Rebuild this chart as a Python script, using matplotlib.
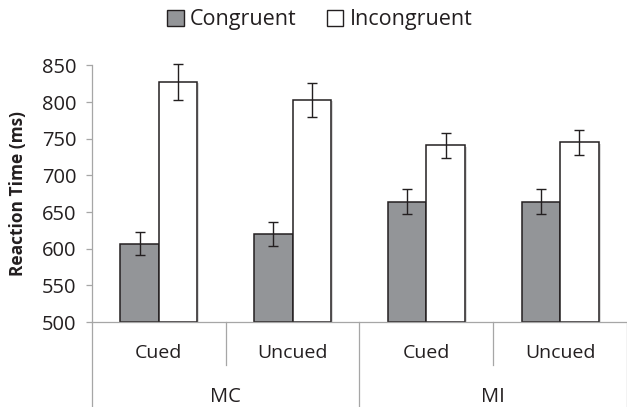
import numpy as np
import matplotlib
matplotlib.use("Agg")
import matplotlib.pyplot as plt
import matplotlib.patheffects as pe
from matplotlib.patches import Patch

# data
groups = ["MC", "MI"]
cues = ["Cued", "Uncued", "Cued", "Uncued"]
congruent = [607, 620, 664, 664]
congruent_err = [15.5, 16, 17, 17]
incongruent = [828, 803, 741, 745]
incongruent_err = [24.5, 23, 17.5, 17.5]
yticks = [500, 550, 600, 650, 700, 750, 800, 850]

dark = "#231f20"
grey_fill = "#939598"
axis_grey = "#a6a6a6"

plt.rcParams["font.family"] = ["Open Sans", "DejaVu Sans"]

fig = plt.figure(figsize=(6.27, 4.07), dpi=100)
ax = fig.add_axes([0.1467, 0.2088, 0.8533, 0.6303])

x = np.arange(len(cues))
bw = 0.288
shadow = [pe.SimplePatchShadow(offset=(1.5, -1), shadow_rgbFace="#999999", alpha=0.35), pe.Normal()]

b1 = ax.bar(x - bw / 2, np.array(congruent) - 500, bw, bottom=500, color=grey_fill,
            edgecolor=dark, linewidth=1.1, zorder=2)
b2 = ax.bar(x + bw / 2, np.array(incongruent) - 500, bw, bottom=500, color="white",
            edgecolor=dark, linewidth=1.1, zorder=2)
for b in list(b1) + list(b2):
    b.set_path_effects(shadow)

for xs, ys, es in [(x - bw / 2, congruent, congruent_err), (x + bw / 2, incongruent, incongruent_err)]:
    eb = ax.errorbar(xs, ys, yerr=es, fmt="none", ecolor=dark,
                     elinewidth=1.0, capsize=3.3, capthick=1.0, zorder=3)
    for art in eb.get_children():
        art.set_clip_on(False)

ax.set_xlim(-0.5, 3.5)
ax.set_ylim(500, 850)
ax.set_yticks(yticks)
ax.set_xticks([])
ax.tick_params(axis="y", direction="out", length=4.3, width=0.9, color=axis_grey,
               labelsize=14.5, labelcolor=dark, pad=7)

for s in ["top", "right"]:
    ax.spines[s].set_visible(False)
ax.spines["left"].set_color(axis_grey)
ax.spines["bottom"].set_color(axis_grey)
ax.spines["left"].set_linewidth(0.9)
ax.spines["bottom"].set_linewidth(0.9)

ax.text(-0.138, 0.5, "Reaction Time (ms)", transform=ax.transAxes, rotation=90,
        ha="center", va="center", fontsize=12.5, fontweight="bold", color=dark)

# multi-level category axis
trans = ax.get_xaxis_transform()
for xs, depth in [(-0.5, -0.33), (0.5, -0.168), (1.5, -0.33), (2.5, -0.168), (3.5, -0.33)]:
    ax.plot([xs, xs], [0, depth], color=axis_grey, lw=0.9, transform=trans, clip_on=False)

for xi, c in zip(x, cues):
    ax.text(xi, -0.121, c, transform=trans, ha="center", va="center", fontsize=14, color=dark)
for gi, g in enumerate(groups):
    ax.text(2 * gi + 0.5, -0.293, g, transform=trans, ha="center", va="center",
            fontsize=14.5, color=dark)

handles = [Patch(facecolor=grey_fill, edgecolor=dark, linewidth=1.0, label="Congruent"),
           Patch(facecolor="white", edgecolor=dark, linewidth=1.0, label="Incongruent")]
leg = fig.legend(handles=handles, loc="center", bbox_to_anchor=(0.51, 0.951), ncol=2,
                 frameon=False, fontsize=15.5, handlelength=0.75, handleheight=0.75,
                 handletextpad=0.3, columnspacing=1.4, borderaxespad=0)
for t in leg.get_texts():
    t.set_color(dark)

fig.savefig("out.png", dpi=100)
